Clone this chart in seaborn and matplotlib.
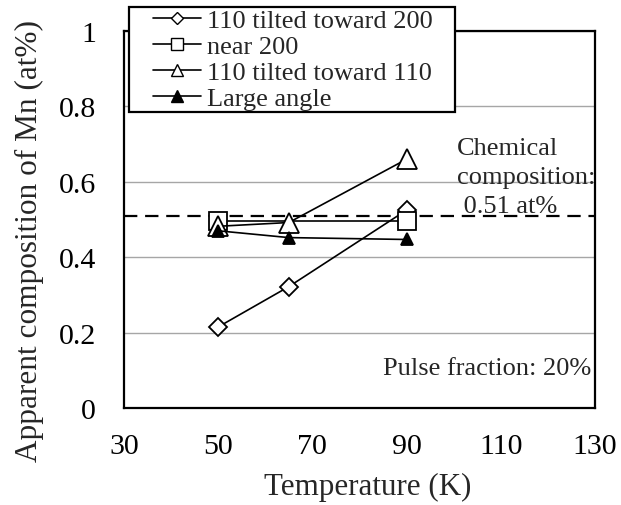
import matplotlib
matplotlib.use("Agg")
import matplotlib.pyplot as plt
from matplotlib.lines import Line2D
from matplotlib.patches import Rectangle
import seaborn as sns
import pandas as pd

# Measured Mn composition vs. temperature for each boundary type
series_names = ["110 tilted toward 200", "near 200", "110 tilted toward 110", "Large angle"]
temp_diamond = [50, 65, 90]
mn_diamond = [0.215, 0.322, 0.525]
temp_square = [50, 90]
mn_square = [0.497, 0.497]
temp_open_tri = [50, 65, 90]
mn_open_tri = [0.482, 0.492, 0.660]
temp_filled_tri = [50, 65, 90]
mn_filled_tri = [0.470, 0.452, 0.447]
chem_comp = 0.51

x_ticks = [30, 50, 70, 90, 110, 130]
y_ticks = [0, 0.2, 0.4, 0.6, 0.8, 1.0]
y_tick_labels = ["0", "0.2", "0.4", "0.6", "0.8", "1"]

sns.set_style("white")
plt.rcParams["font.family"] = ["Liberation Serif", "DejaVu Serif"]

fig = plt.figure(figsize=(6.21, 5.06), dpi=100)
ax = fig.add_axes([124 / 621, 1 - 409 / 506, (595 - 124) / 621, (409 - 32) / 506])

frames = {
    series_names[0]: (temp_diamond, mn_diamond),
    series_names[1]: (temp_square, mn_square),
    series_names[2]: (temp_open_tri, mn_open_tri),
    series_names[3]: (temp_filled_tri, mn_filled_tri),
}
styles = {
    series_names[0]: dict(marker="D", markersize=9.5, markerfacecolor="white"),
    series_names[1]: dict(marker="s", markersize=12.5, markerfacecolor="white"),
    series_names[2]: dict(marker="^", markersize=14, markerfacecolor="white"),
    series_names[3]: dict(marker="^", markersize=9, markerfacecolor="black"),
}

for name in series_names:
    t, v = frames[name]
    df = pd.DataFrame({"Temperature": t, "Mn": v})
    sns.lineplot(data=df, x="Temperature", y="Mn", ax=ax, color="black",
                 linewidth=1.2, markeredgecolor="black", markeredgewidth=1.3,
                 errorbar=None, **styles[name])

# Nominal chemical composition
ax.axhline(chem_comp, color="black", linewidth=1.6, dashes=(6, 3.5), zorder=1)

ax.set_xlim(30, 130)
ax.set_ylim(0, 1)
ax.set_xticks(x_ticks)
ax.set_yticks(y_ticks)
ax.set_yticklabels(y_tick_labels)
ax.tick_params(axis="both", direction="in", labelsize=21.5, colors="black")
ax.tick_params(axis="x", length=6, width=1.2, pad=18)
ax.tick_params(axis="y", length=4, width=1.2, pad=20)
ax.yaxis.grid(True, color="#a6a6a6", linewidth=1.0)
ax.xaxis.grid(False)
ax.set_axisbelow(True)
for sp in ax.spines.values():
    sp.set_color("black")
    sp.set_linewidth(1.6)

ax.set_xlabel("Temperature (K)", fontsize=22.3)
ax.set_ylabel("Apparent composition of Mn (at%)", fontsize=22.5)
ax.xaxis.set_label_coords(0.517, -0.170)
ax.yaxis.set_label_coords(-0.170, 0.446)

ax.text(100.7, 0.521, "Chemical\ncomposition:\n 0.51 at%", fontsize=19,
        ha="left", va="baseline", linespacing=1.4, clip_on=True)
ax.text(85.0, 0.09, "Pulse fraction: 20%", fontsize=19, ha="left", va="baseline")

# Legend in a framed box above the plot area
fig.patches.append(Rectangle((129 / 621, 1 - 113 / 506), (455 - 129) / 621, (113 - 8) / 506,
                             transform=fig.transFigure, facecolor="white",
                             edgecolor="black", linewidth=1.6, zorder=5))
handles = [
    Line2D([], [], color="black", lw=1.2, marker="D", markersize=6.5, mfc="white", mec="black"),
    Line2D([], [], color="black", lw=1.2, marker="s", markersize=8, mfc="white", mec="black"),
    Line2D([], [], color="black", lw=1.2, marker="^", markersize=9, mfc="white", mec="black"),
    Line2D([], [], color="black", lw=1.2, marker="^", markersize=8, mfc="black", mec="black"),
]
leg = fig.legend(handles, series_names, loc="upper left",
                 bbox_to_anchor=(153 / 621, 1 - 10 / 506), bbox_transform=fig.transFigure,
                 frameon=False, fontsize=19, handlelength=1.8, handletextpad=0.25,
                 labelspacing=0.09, borderpad=0, borderaxespad=0)
leg.set_zorder(6)

fig.savefig("out.png", dpi=100)
